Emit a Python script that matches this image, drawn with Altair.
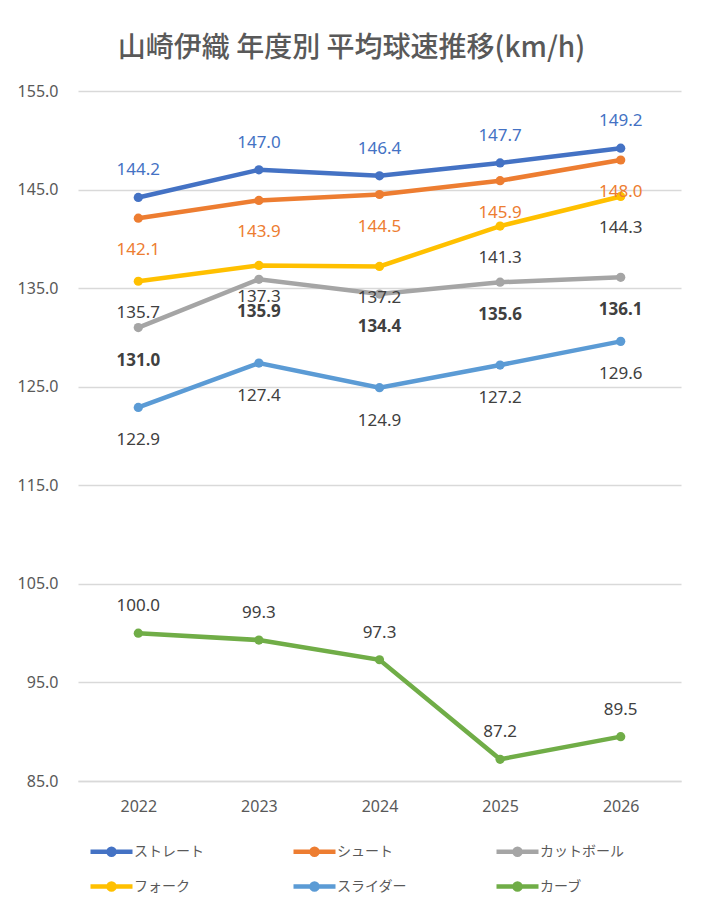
import altair as alt
import pandas as pd

years = ["2022", "2023", "2024", "2025", "2026"]
pitches = ["ストレート", "シュート", "カットボール", "フォーク", "スライダー", "カーブ"]
straight = [144.2, 147.0, 146.4, 147.7, 149.2]
shoot = [142.1, 143.9, 144.5, 145.9, 148.0]
cutter = [131.0, 135.9, 134.4, 135.6, 136.1]
fork = [135.7, 137.3, 137.2, 141.3, 144.3]
slider = [122.9, 127.4, 124.9, 127.2, 129.6]
curve = [100.0, 99.3, 97.3, 87.2, 89.5]
y_ticks = [85, 95, 105, 115, 125, 135, 145, 155]

colors = ["#4472C4", "#ED7D31", "#A5A5A5", "#FFC000", "#5B9BD5", "#70AD47"]

series = [straight, shoot, cutter, fork, slider, curve]
rows = []
for name, vals in zip(pitches, series):
    for yr, v in zip(years, vals):
        rows.append({"pitch": name, "year": yr, "speed": v})
df = pd.DataFrame(rows)

JP_FONT = "Noto Sans CJK JP"
NUM_FONT = "Noto Sans"
GRID = "#D9D9D9"

# line with a dot in the middle, for the legend
legend_path = "M-4.2,0H4.2M0,-0.6A0.6,0.6,0,1,1,0,0.6A0.6,0.6,0,1,1,0,-0.6"

x = alt.X("year:O", sort=years, title=None).axis(
    labelAngle=0, labelFontSize=16, labelColor="#595959", labelPadding=17,
    labelFont=NUM_FONT, ticks=False, domainColor=GRID, domainWidth=1.5, grid=False,
)
y = alt.Y("speed:Q", title=None).scale(domain=[85, 155], nice=False, zero=False).axis(
    values=y_ticks, format=".1f", labelFontSize=16, labelColor="#595959",
    labelFont=NUM_FONT, labelPadding=20, ticks=False, domain=False,
    gridColor=GRID, gridWidth=1.5,
)

base = alt.Chart(df).encode(x=x, y=y)

lines = base.mark_line(
    strokeWidth=4.5, point=alt.OverlayMarkDef(filled=True, size=85)
).encode(
    color=alt.Color("pitch:N", sort=pitches, title=None)
    .scale(domain=pitches, range=colors)
    .legend(
        orient="none", legendX=26, legendY=753, columns=3, direction="horizontal",
        symbolType=legend_path, symbolSize=100, symbolStrokeWidth=4.5,
        labelFontSize=14, labelColor="#595959", labelFont=JP_FONT,
        labelOffset=15, columnPadding=80, rowPadding=10,
    ),
    detail="pitch:N",
)

# label placement per series: offset, colour, weight
label_style = {
    "ストレート": (-27, "#4472C4", "normal"),
    "シュート": (32, "#ED7D31", "normal"),
    "カットボール": (33, "#404040", "bold"),
    "フォーク": (32, "#404040", "normal"),
    "スライダー": (33, "#404040", "normal"),
    "カーブ": (-27, "#404040", "normal"),
}

labels = []
for name in pitches:
    off, col, wt = label_style[name]
    labels.append(
        base.transform_filter(alt.datum.pitch == name)
        .mark_text(dy=off, color=col, fontWeight=wt, fontSize=17, font=NUM_FONT)
        .encode(text=alt.Text("speed:Q", format=".1f"))
    )

chart = alt.layer(lines, *labels).properties(
    width=603,
    height=690,
    autosize=alt.AutoSizeParams(type="none"),
    padding={"left": 70, "top": 83, "right": 16, "bottom": 118},
    title=alt.Title(
        "山崎伊織 年度別 平均球速推移(km/h)", fontSize=28, color="#595959",
        font=JP_FONT, fontWeight=500, offset=20, dx=-28,
    ),
).configure_view(stroke=None)

chart.save("out.html", embed_options={"renderer": "svg", "actions": False})
